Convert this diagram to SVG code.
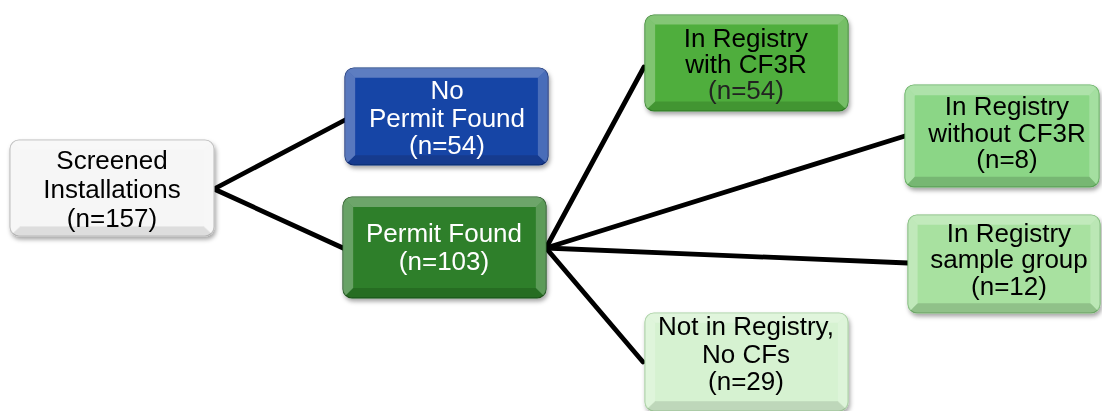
<svg xmlns="http://www.w3.org/2000/svg" width="1102" height="411" viewBox="0 0 1102 411">
  <defs>
    <filter id="shadow" x="-10%" y="-10%" width="125%" height="130%">
      <feDropShadow dx="1.5" dy="3" stdDeviation="2" flood-color="#000" flood-opacity="0.35"/>
    </filter>
    <clipPath id="roundClip" clipPathUnits="objectBoundingBox">
      <rect x="0" y="0" width="1" height="1" rx="0.045" ry="0.09"/>
    </clipPath>
    <!-- bevel shading, drawn in a 200x100 unit cell and scaled per box -->
    <g id="bevel">
      <polygon points="0,0 10,10 10,90 0,100" fill="#fff" opacity="0.28"/>
      <polygon points="200,0 190,10 190,90 200,100" fill="#fff" opacity="0.22"/>
      <polygon points="0,0 200,0 190,10 10,10" fill="#fff" opacity="0.3"/>
      <polygon points="0,100 200,100 190,90 10,90" fill="#000" opacity="0.14"/>
    </g>
  </defs>
  <style>
    text { font-family: "Liberation Sans", Arial, sans-serif; font-size: 26px; text-anchor: middle; }
    .light { fill: #ffffff; }
    .dark { fill: #000000; }
    .edge { stroke-width: 1.2; }
    .link { stroke: #000; stroke-width: 4.8; stroke-linecap: round; fill: none; }
  </style>

  <rect width="1102" height="411" fill="#ffffff"/>

  <!-- connectors -->
  <g id="connectors">
    <line class="link" x1="214" y1="189" x2="345" y2="120"/>
    <line class="link" x1="214" y1="189" x2="343" y2="248"/>
    <line class="link" x1="546" y1="248" x2="644" y2="67"/>
    <line class="link" x1="546" y1="248" x2="905" y2="136"/>
    <line class="link" x1="546" y1="248" x2="908" y2="263"/>
    <line class="link" x1="546" y1="248" x2="643" y2="362"/>
  </g>

  <!-- Screened Installations -->
  <g id="screened" filter="url(#shadow)">
    <rect x="10" y="140" width="204" height="96" rx="9" fill="#f6f6f6" stroke="#bdbdbd" class="edge"/>
    <g clip-path="url(#roundClip)">
      <use href="#bevel" transform="translate(10,140) scale(1.02,0.96)" opacity="0.7"/>
    </g>
    <text x="112" y="169" class="dark">Screened</text>
    <text x="112" y="198" class="dark">Installations</text>
    <text x="112" y="227" class="dark">(n=157)</text>
  </g>

  <!-- No Permit Found -->
  <g id="no-permit" filter="url(#shadow)">
    <rect x="345" y="68" width="203" height="97" rx="9" fill="#1845a6" stroke="#0c2c78" class="edge"/>
    <g clip-path="url(#roundClip)">
      <use href="#bevel" transform="translate(345,68) scale(1.015,0.97)"/>
    </g>
    <text x="447" y="99" class="light">No</text>
    <text x="447" y="127" class="light">Permit Found</text>
    <text x="447" y="154" class="light">(n=54)</text>
  </g>

  <!-- Permit Found -->
  <g id="permit" filter="url(#shadow)">
    <rect x="343" y="197" width="203" height="101" rx="9" fill="#2f7f2b" stroke="#1d561b" class="edge"/>
    <g clip-path="url(#roundClip)">
      <use href="#bevel" transform="translate(343,197) scale(1.015,1.01)"/>
    </g>
    <text x="444" y="242" class="light">Permit Found</text>
    <text x="444" y="270" class="light">(n=103)</text>
  </g>

  <!-- In Registry with CF3R -->
  <g id="with-cf3r" filter="url(#shadow)">
    <rect x="645" y="15" width="203" height="96" rx="9" fill="#4fae3c" stroke="#34852a" class="edge"/>
    <g clip-path="url(#roundClip)">
      <use href="#bevel" transform="translate(645,15) scale(1.015,0.96)"/>
    </g>
    <text x="746" y="47" class="dark">In Registry</text>
    <text x="746" y="73" class="dark">with CF3R</text>
    <text x="746" y="99" fill="#222">(n=54)</text>
  </g>

  <!-- In Registry without CF3R -->
  <g id="without-cf3r" filter="url(#shadow)">
    <rect x="905" y="85" width="194" height="102" rx="9" fill="#8bd686" stroke="#5fae5a" class="edge"/>
    <g clip-path="url(#roundClip)">
      <use href="#bevel" transform="translate(905,85) scale(0.97,1.02)"/>
    </g>
    <text x="1007" y="115" class="dark">In Registry</text>
    <text x="1007" y="142" class="dark">without CF3R</text>
    <text x="1007" y="168" class="dark">(n=8)</text>
  </g>

  <!-- In Registry sample group -->
  <g id="sample-group" filter="url(#shadow)">
    <rect x="908" y="215" width="192" height="98" rx="9" fill="#a8e1a0" stroke="#78b872" class="edge"/>
    <g clip-path="url(#roundClip)">
      <use href="#bevel" transform="translate(908,215) scale(0.96,0.98)"/>
    </g>
    <text x="1009" y="242" class="dark">In Registry</text>
    <text x="1009" y="268" class="dark">sample group</text>
    <text x="1009" y="295" class="dark">(n=12)</text>
  </g>

  <!-- Not in Registry, No CFs -->
  <g id="not-in-registry" filter="url(#shadow)">
    <rect x="645" y="313" width="203" height="98" rx="9" fill="#d6f2d1" stroke="#a6cfa0" class="edge"/>
    <g clip-path="url(#roundClip)">
      <use href="#bevel" transform="translate(645,313) scale(1.015,0.98)" opacity="0.8"/>
    </g>
    <text x="746" y="335" class="dark">Not in Registry,</text>
    <text x="746" y="363" class="dark">No CFs</text>
    <text x="746" y="390" class="dark">(n=29)</text>
  </g>
</svg>
